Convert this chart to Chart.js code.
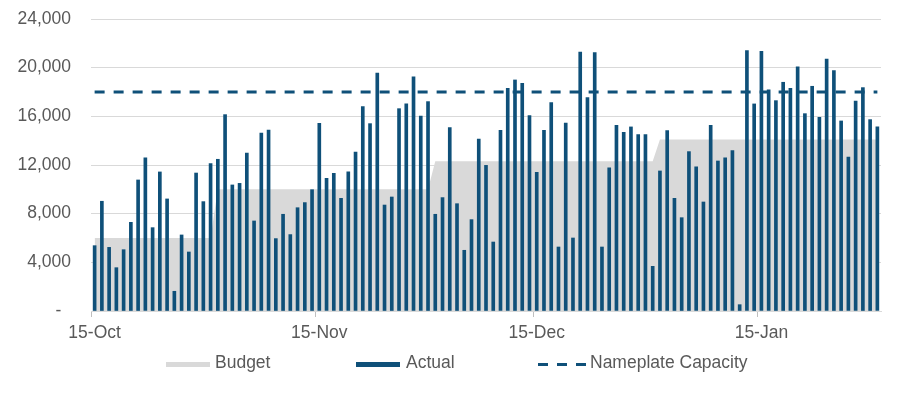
<!DOCTYPE html>
<html>
<head>
<meta charset="utf-8">
<script src="https://cdn.jsdelivr.net/npm/chart.js@4/dist/chart.umd.min.js"></script>
<style>
  html, body { margin: 0; padding: 0; background: #ffffff; }
  #wrap { width: 900px; height: 394px; }
</style>
</head>
<body>
<div id="wrap"><canvas id="c" width="900" height="394"></canvas></div>
<script>
// ---- categories: daily, 15-Oct to 31-Jan ----
const monthNames = ['Oct', 'Nov', 'Dec', 'Jan'];
const monthDays  = [[15, 31], [1, 30], [1, 31], [1, 31]];
const categories = [];
monthNames.forEach((m, k) => {
  for (let d = monthDays[k][0]; d <= monthDays[k][1]; d++) categories.push(d + '-' + m);
});

// ---- tick labels shown on the axes ----
const tickLabels = ['15-Oct', '15-Nov', '15-Dec', '15-Jan'];
const yTicks = [0, 4000, 8000, 12000, 16000, 20000, 24000];

// ---- series ----
const actual = [
  5370, 9020, 5230, 3560, 5040, 7290, 10770, 12580, 6850, 11430, 9210, 1620, 6250, 4850, 11340, 8990, 12110,
  12470, 16140, 10360, 10490, 12990, 7400, 14630, 14880, 5950, 7950, 6280, 8490, 8910, 9970, 15430, 10910,
  11320, 9260, 11430, 13070, 16800, 15400, 19560, 8710, 9370, 16630, 17020, 19240, 16030, 17210,
  7950, 9320, 15070, 8820, 4990, 7510, 14140, 11970, 5670, 14850, 18300, 18990, 18710, 16060, 11400, 14850,
  17130, 5260, 15450, 6000, 21290, 17540, 21240, 5260, 11760, 15260, 14690, 15130, 14500, 14500, 3670,
  11510, 14820, 9260, 7670, 13100, 11840, 8960, 15260, 12330, 12580, 13180, 520, 21400, 17020, 21350,
  18170, 17290, 18800, 18300, 20060, 16220, 18470, 15920, 20710, 19760, 15620, 12660, 17260, 18360, 15730, 15130
];
const budget = [
  6000, 6000, 6000, 6000, 6000, 6000, 6000, 6000, 6000, 6000, 6000, 6000, 6000, 6000, 6000, 6000, 6000,
  10000, 10000, 10000, 10000, 10000, 10000, 10000, 10000, 10000, 10000, 10000, 10000, 10000, 10000, 10000,
  10000, 10000, 10000, 10000, 10000, 10000, 10000, 10000, 10000, 10000, 10000, 10000, 10000, 10000, 10000,
  12300, 12300, 12300, 12300, 12300, 12300, 12300, 12300, 12300, 12300, 12300, 12300, 12300, 12300, 12300, 12300,
  12300, 12300, 12300, 12300, 12300, 12300, 12300, 12300, 12300, 12300, 12300, 12300, 12300, 12300, 12300,
  14100, 14100, 14100, 14100, 14100, 14100, 14100, 14100, 14100, 14100, 14100, 14100, 14100, 14100, 14100, 14100,
  14100, 14100, 14100, 14100, 14100, 14100, 14100, 14100, 14100, 14100, 14100, 14100, 14100, 14100, 14100
];
const nameplateCapacity = 18000;

// ---- styles ----
const BLUE = '#0f5079';
const GREY_FILL = '#d9d9d9';
const GRID = '#d9d9d9';
const TEXT = '#595959';
const FONT = "'Liberation Sans', Arial, sans-serif";
const FSIZE = 17.5;

Chart.defaults.font.family = FONT;
Chart.defaults.font.size = FSIZE;
Chart.defaults.color = TEXT;

const legendItems = [
  { text: 'Budget', kind: 'box', color: GREY_FILL, x: 166, tx: 215 },
  { text: 'Actual', kind: 'box', color: BLUE, x: 356, tx: 406 },
  { text: 'Nameplate Capacity', kind: 'dash', color: BLUE, x: 538, tx: 590 }
];

const legendPlugin = {
  id: 'customLegend',
  afterDraw(chart) {
    const ctx = chart.ctx;
    const cy = 364.5;
    ctx.save();
    ctx.font = FSIZE + 'px ' + FONT;
    ctx.textBaseline = 'middle';
    legendItems.forEach(it => {
      if (it.kind === 'box') {
        ctx.fillStyle = it.color;
        ctx.fillRect(it.x, cy - 2.5, 44, 5);
      } else {
        ctx.strokeStyle = it.color;
        ctx.lineWidth = 3;
        ctx.setLineDash([10, 9]);
        ctx.beginPath();
        ctx.moveTo(it.x, cy);
        ctx.lineTo(it.x + 48, cy);
        ctx.stroke();
        ctx.setLineDash([]);
      }
      ctx.fillStyle = TEXT;
      ctx.fillText(it.text, it.tx, cy - 1);
    });
    ctx.restore();
  }
};

new Chart(document.getElementById('c'), {
  type: 'bar',
  data: {
    labels: categories,
    datasets: [
      {
        type: 'line',
        label: 'Nameplate Capacity',
        data: [
          { x: categories[0], y: nameplateCapacity },
          { x: categories[categories.length - 1], y: nameplateCapacity }
        ],
        borderColor: BLUE,
        borderWidth: 3,
        borderDash: [10, 9],
        pointRadius: 0,
        fill: false,
        order: 0
      },
      {
        type: 'bar',
        label: 'Actual',
        data: actual,
        backgroundColor: BLUE,
        barThickness: 3,
        order: 1
      },
      {
        type: 'line',
        label: 'Budget',
        data: budget,
        borderColor: 'rgba(0,0,0,0)',
        borderWidth: 1,
        backgroundColor: GREY_FILL,
        fill: 'origin',
        pointRadius: 0,
        tension: 0,
        order: 2
      }
    ]
  },
  options: {
    responsive: false,
    animation: false,
    events: [],
    devicePixelRatio: 1,
    layout: { padding: { left: 0, right: 19, top: 19, bottom: 0 } },
    plugins: {
      legend: { display: false },
      tooltip: { enabled: false }
    },
    scales: {
      x: {
        type: 'category',
        offset: true,
        grid: {
          offset: true,
          drawOnChartArea: false,
          drawTicks: true,
          tickLength: 6,
          tickColor: ctx => tickLabels.includes(categories[ctx.index]) ? '#bfbfbf' : 'rgba(0,0,0,0)'
        },
        border: { display: true, color: GRID },
        ticks: {
          autoSkip: false,
          maxRotation: 0,
          minRotation: 0,
          padding: 6,
          color: TEXT,
          font: { size: FSIZE },
          callback: (v, i) => tickLabels.includes(categories[i]) ? categories[i] : ''
        },
        afterFit: s => { s.height = 83; s.paddingLeft = 0; s.paddingRight = 0; }
      },
      y: {
        min: 0,
        max: 24000,
        afterBuildTicks: s => { s.ticks = yTicks.map(v => ({ value: v })); },
        grid: { color: GRID, drawTicks: false },
        border: { display: false },
        ticks: {
          padding: 20,
          color: TEXT,
          font: { size: FSIZE },
          callback: v => v === 0 ? '-\u00a0\u00a0' : Number(v).toLocaleString('en-US')
        },
        afterFit: s => { s.width = 91; s.paddingTop = 0; s.paddingBottom = 0; }
      }
    }
  },
  plugins: [legendPlugin]
});
</script>
</body>
</html>
